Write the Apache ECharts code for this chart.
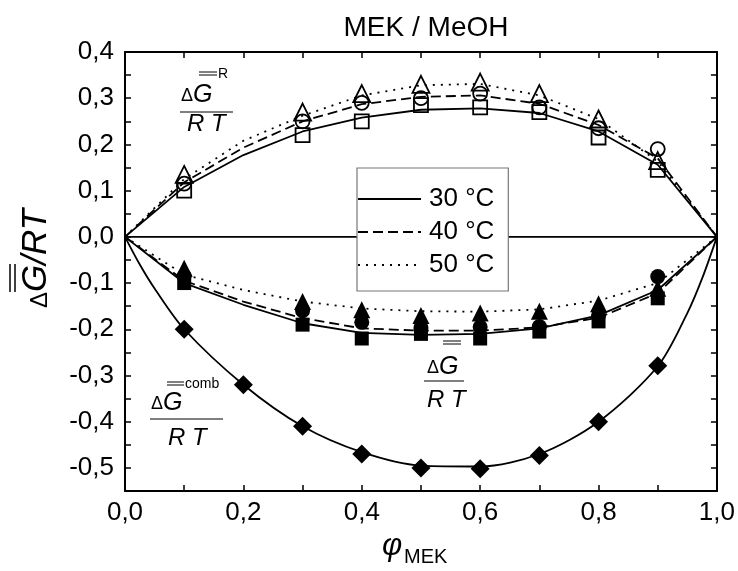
<!DOCTYPE html>
<html><head><meta charset="utf-8">
<script src="https://cdn.jsdelivr.net/npm/echarts@6/dist/echarts.min.js"></script>
<style>html,body{margin:0;padding:0;background:#fff}#c{width:738px;height:571px}</style>
</head><body><div id="c"></div>
<script>
// ---- data ----
const xPts = [0.1, 0.3, 0.4, 0.5, 0.6, 0.7, 0.8, 0.9];
const resid30 = [0.10, 0.22, 0.25, 0.285, 0.28, 0.27, 0.215, 0.145];   // open squares
const resid40 = [0.115, 0.25, 0.29, 0.30, 0.31, 0.28, 0.235, 0.19];   // open circles
const resid50 = [0.135, 0.27, 0.31, 0.33, 0.335, 0.31, 0.255, 0.165]; // open triangles
const total30 = [-0.10, -0.19, -0.22, -0.21, -0.22, -0.205, -0.183, -0.133]; // filled squares
const total40 = [-0.085, -0.16, -0.185, -0.197, -0.195, -0.194, -0.17, -0.086]; // filled circles
const total50 = [-0.068, -0.14, -0.158, -0.17, -0.165, -0.161, -0.145, -0.111]; // filled triangles
const xComb = [0.1, 0.2, 0.3, 0.4, 0.5, 0.6, 0.7, 0.8, 0.9];
const comb = [-0.20, -0.32, -0.41, -0.47, -0.50, -0.502, -0.473, -0.40, -0.279]; // diamonds

const xFit = [0, 0.1, 0.2, 0.3, 0.4, 0.5, 0.6, 0.7, 0.8, 0.9, 1.0];
const fitR30 = [0, 0.108, 0.177, 0.228, 0.258, 0.275, 0.278, 0.268, 0.228, 0.156, 0];
const fitR40 = [0, 0.118, 0.193, 0.25, 0.287, 0.303, 0.306, 0.288, 0.242, 0.17, 0];
const fitR50 = [0, 0.125, 0.208, 0.262, 0.306, 0.328, 0.331, 0.306, 0.255, 0.163, 0];
const fitT30 = [0, -0.10, -0.147, -0.187, -0.208, -0.212, -0.21, -0.198, -0.17, -0.115, 0];
const fitT40 = [0, -0.095, -0.14, -0.176, -0.198, -0.203, -0.203, -0.196, -0.175, -0.122, 0];
const fitT50 = [0, -0.082, -0.115, -0.14, -0.155, -0.161, -0.162, -0.157, -0.138, -0.10, 0];
const xCombFit = [0, 0.025, 0.05, 0.1, 0.2, 0.3, 0.4, 0.5, 0.6, 0.7, 0.8, 0.9, 0.95, 0.975, 1.0];
const combFit = [0, -0.06, -0.112, -0.2, -0.32, -0.41, -0.466, -0.495, -0.497, -0.47, -0.40, -0.28, -0.165, -0.09, 0];
const zeroLine = [[0, 0], [1, 0]];

const legendNames = ['30 °C', '40 °C', '50 °C'];
const title = 'MEK / MeOH';

// ---- helpers ----
const FONT = '"Liberation Sans", Arial, sans-serif';
const zip = (xs, ys) => xs.map((x, i) => [x, ys[i]]);
const fmt = v => v.toFixed(1).replace('.', ',').replace('-0,0', '0,0');

function lineSeries(name, xs, ys, type, smooth) {
  return {
    name, type: 'line', data: zip(xs, ys), symbol: 'none', smooth: smooth || false,
    itemStyle: { color: '#000' },
    lineStyle: { color: '#000', width: 1.8, type: type }, z: 2, silent: true
  };
}
function scatter(name, xs, ys, symbol, size, filled) {
  return {
    name, type: 'scatter', data: zip(xs, ys), symbol, symbolSize: size, z: 3, silent: true,
    itemStyle: filled ? { color: '#000', opacity: 1 } : { color: 'rgba(0,0,0,0)', borderColor: '#000', borderWidth: 1.8, opacity: 1 }
  };
}
const dashT = [10, 5];
const dotT = [2, 6];

function bars(x1, x2, y) {
  return [
    { type: 'line', shape: { x1, y1: y, x2, y2: y }, style: { stroke: '#000', lineWidth: 1 } },
    { type: 'line', shape: { x1, y1: y + 3, x2, y2: y + 3 }, style: { stroke: '#000', lineWidth: 1 } }
  ];
}
function fraction(opt) {
  const els = [];
  els.push({ type: 'text', style: { text: 'Δ', x: opt.dx, y: opt.gy + 1, font: '18px ' + FONT, fill: '#000', verticalAlign: 'middle' } });
  els.push({ type: 'text', style: { text: 'G', x: opt.gx, y: opt.gy, font: 'italic 25px ' + FONT, fill: '#000', verticalAlign: 'middle' } });
  els.push(...bars(opt.bx1, opt.bx2, opt.by));
  if (opt.sup) els.push({ type: 'text', style: { text: opt.sup, x: opt.bx2 + 1, y: opt.by + 2, font: '14px ' + FONT, fill: '#000', verticalAlign: 'middle' } });
  els.push({ type: 'line', shape: { x1: opt.lx1, y1: opt.ly, x2: opt.lx2, y2: opt.ly }, style: { stroke: '#555', lineWidth: 1.5 } });
  els.push({ type: 'text', style: { text: 'R T', x: opt.rx, y: opt.ry, font: 'italic 24px ' + FONT, fill: '#000', verticalAlign: 'middle' } });
  return { type: 'group', children: els, silent: true };
}

const chart = echarts.init(document.getElementById('c'), null, { renderer: 'canvas' });
const axisCommon = {
  type: 'value', min: 0, max: 1, interval: 0.1,
  axisLine: { show: true, onZero: false, lineStyle: { color: '#000', width: 2 } },
  axisTick: { show: true, inside: true, length: 6, lineStyle: { color: '#000', width: 1.5 } },
  splitLine: { show: false }
};
const option = {
  animation: false,
  backgroundColor: '#fff',
  title: { text: title, left: 421, top: 9, textAlign: 'center',
    textStyle: { fontFamily: FONT, fontWeight: 'normal', fontSize: 28, color: '#000' } },
  grid: { left: 125, right: 21, top: 52, bottom: 80 },
  legend: {
    data: legendNames, orient: 'vertical', left: 357, top: 168,
    itemWidth: 63, itemHeight: 14, itemGap: 7,
    padding: [18, 14, 13, 0],
    backgroundColor: '#fff', borderColor: '#777', borderWidth: 1.2,
    itemStyle: { opacity: 0 },
    textStyle: { fontFamily: FONT, fontSize: 26, color: '#000', padding: [0, 0, 0, 3] },
    selectedMode: false
  },
  xAxis: [
    Object.assign({}, axisCommon, {
      position: 'bottom',
      axisLabel: { show: true, margin: 9, fontFamily: FONT, fontSize: 26, color: '#000',
        formatter: v => (Math.round(v * 10) % 2 === 0 ? fmt(v) : '') }
    }),
    Object.assign({}, axisCommon, { position: 'top', axisLabel: { show: false } })
  ],
  yAxis: [
    Object.assign({}, axisCommon, {
      min: -0.55, max: 0.4, interval: 0.05, position: 'left',
      axisLabel: { show: true, margin: 11, fontFamily: FONT, fontSize: 26, color: '#000',
        formatter: v => (Math.round(v * 100) % 10 === 0 ? fmt(v) : '') }
    }),
    Object.assign({}, axisCommon, { min: -0.55, max: 0.4, interval: 0.05, position: 'right', axisLabel: { show: false } })
  ],
  series: [
    { name: 'zero', type: 'line', data: zeroLine, symbol: 'none', lineStyle: { color: '#000', width: 1.8 }, z: 1, silent: true },
    lineSeries('30 °C', xFit, fitR30, 'solid'),
    lineSeries('40 °C', xFit, fitR40, dashT),
    lineSeries('50 °C', xFit, fitR50, dotT),
    lineSeries('30 °C', xFit, fitT30, 'solid'),
    lineSeries('40 °C', xFit, fitT40, dashT),
    lineSeries('50 °C', xFit, fitT50, dotT),
    lineSeries('comb', xCombFit, combFit, 'solid', 0.3),
    scatter('R 30', xPts, resid30, 'rect', 14, false),
    scatter('R 40', xPts, resid40, 'circle', 14, false),
    scatter('R 50', xPts, resid50, 'triangle', 17, false),
    scatter('T 30', xPts, total30, 'rect', 14, true),
    scatter('T 40', xPts, total40, 'circle', 15, true),
    scatter('T 50', xPts, total50, 'triangle', 17, true),
    scatter('comb pts', xComb, comb, 'diamond', 19, true)
  ],
  graphic: [
    // y-axis name
    { type: 'group', x: 36, y: 252, rotation: Math.PI / 2, silent: true, children: [
      { type: 'text', style: { text: 'Δ', x: -56, y: 4, font: '24px ' + FONT, fill: '#000', verticalAlign: 'middle' } },
      { type: 'text', style: { text: 'G/RT', x: -40, y: 0, font: 'italic 35px ' + FONT, fill: '#000', verticalAlign: 'middle' } },
      { type: 'line', shape: { x1: -40, y1: -26, x2: -12, y2: -26 }, style: { stroke: '#000', lineWidth: 1.5 } },
      { type: 'line', shape: { x1: -40, y1: -21, x2: -12, y2: -21 }, style: { stroke: '#000', lineWidth: 1.5 } }
    ] },
    // x-axis name
    { type: 'text', silent: true, style: { text: 'φ', x: 382, y: 546, font: 'italic 31px ' + FONT, fill: '#000', verticalAlign: 'middle' } },
    { type: 'text', silent: true, style: { text: 'MEK', x: 404, y: 557, font: '20px ' + FONT, fill: '#000', verticalAlign: 'middle' } },
    fraction({ dx: 181, gx: 193, gy: 95, bx1: 199, bx2: 217, by: 72, sup: 'R', lx1: 180, lx2: 233, ly: 112, rx: 187, ry: 124 }),
    fraction({ dx: 151, gx: 163, gy: 403, bx1: 167, bx2: 184, by: 382, sup: 'comb', lx1: 150, lx2: 223, ly: 419, rx: 168, ry: 438 }),
    fraction({ dx: 427, gx: 439, gy: 367, bx1: 443, bx2: 461, by: 341, sup: '', lx1: 424, lx2: 464, ly: 381, rx: 427, ry: 400 })
  ]
};
chart.setOption(option);
</script></body></html>
